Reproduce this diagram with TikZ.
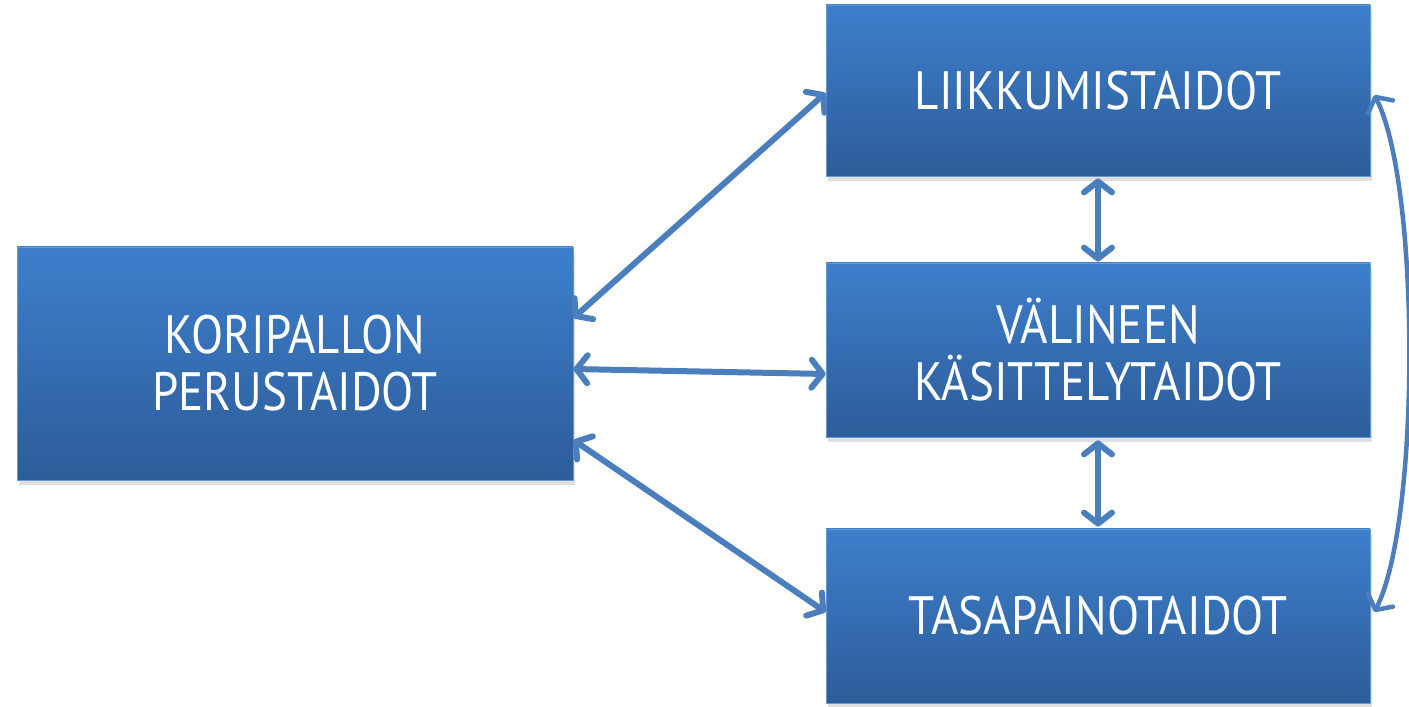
\documentclass[tikz,border=0pt]{standalone}
\usepackage{fontspec}
\setmainfont{PT Sans}[FakeStretch=0.87]
\usetikzlibrary{arrows.meta,shadows}
\definecolor{boxtop}{HTML}{3D7FCC}
\definecolor{boxbot}{HTML}{2D5C99}
\definecolor{arrowblue}{HTML}{4A7EBD}
\tikzset{
  taito/.style={rectangle, top color=boxtop, bottom color=boxbot,
    draw=boxtop!80!white, line width=0.8pt, text=white, align=center,
    font=\fontsize{54}{57}\selectfont,
    drop shadow={shadow xshift=2pt, shadow yshift=-5pt, opacity=0.25}},
  yhteys/.style={arrowblue, line width=6pt, line cap=round,
    {Straight Barb[length=11pt,width=28pt,round]}-{Straight Barb[length=11pt,width=28pt,round]}}
}
\begin{document}
\begin{tikzpicture}[x=1pt,y=1pt]
  \useasboundingbox (0,0) rectangle (1409,707);
  \node[taito, minimum width=556, minimum height=233] (perus) at (295,343.5)
    {KORIPALLON\\PERUSTAIDOT};
  \node[taito, minimum width=544, minimum height=171] (liik) at (1098,616.5)
    {LIIKKUMISTAIDOT};
  \node[taito, minimum width=544, minimum height=174] (vali) at (1098,357)
    {VÄLINEEN\\KÄSITTELYTAIDOT};
  \node[taito, minimum width=544, minimum height=174] (tasa) at (1098,91)
    {TASAPAINOTAIDOT};
  \draw[yhteys] ([yshift=45.5]perus.east) -- ([yshift=-2.5]liik.west);
  \draw[yhteys] ([yshift=-5.5]perus.east) -- ([yshift=-24]vali.west);
  \draw[yhteys] ([yshift=-76.5]perus.east) -- ([yshift=4]tasa.west);
  \draw[yhteys, shorten <=2pt, shorten >=1pt] (liik.south) -- (vali.north);
  \draw[yhteys, shorten <=3pt, shorten >=2pt] (vali.south) -- (tasa.north);
  \draw[yhteys, line width=4.5pt] ([xshift=4,yshift=-4.5]liik.east)
    .. controls +(46,-90) and +(46,90) .. ([xshift=4,yshift=4]tasa.east);
\end{tikzpicture}
\end{document}
